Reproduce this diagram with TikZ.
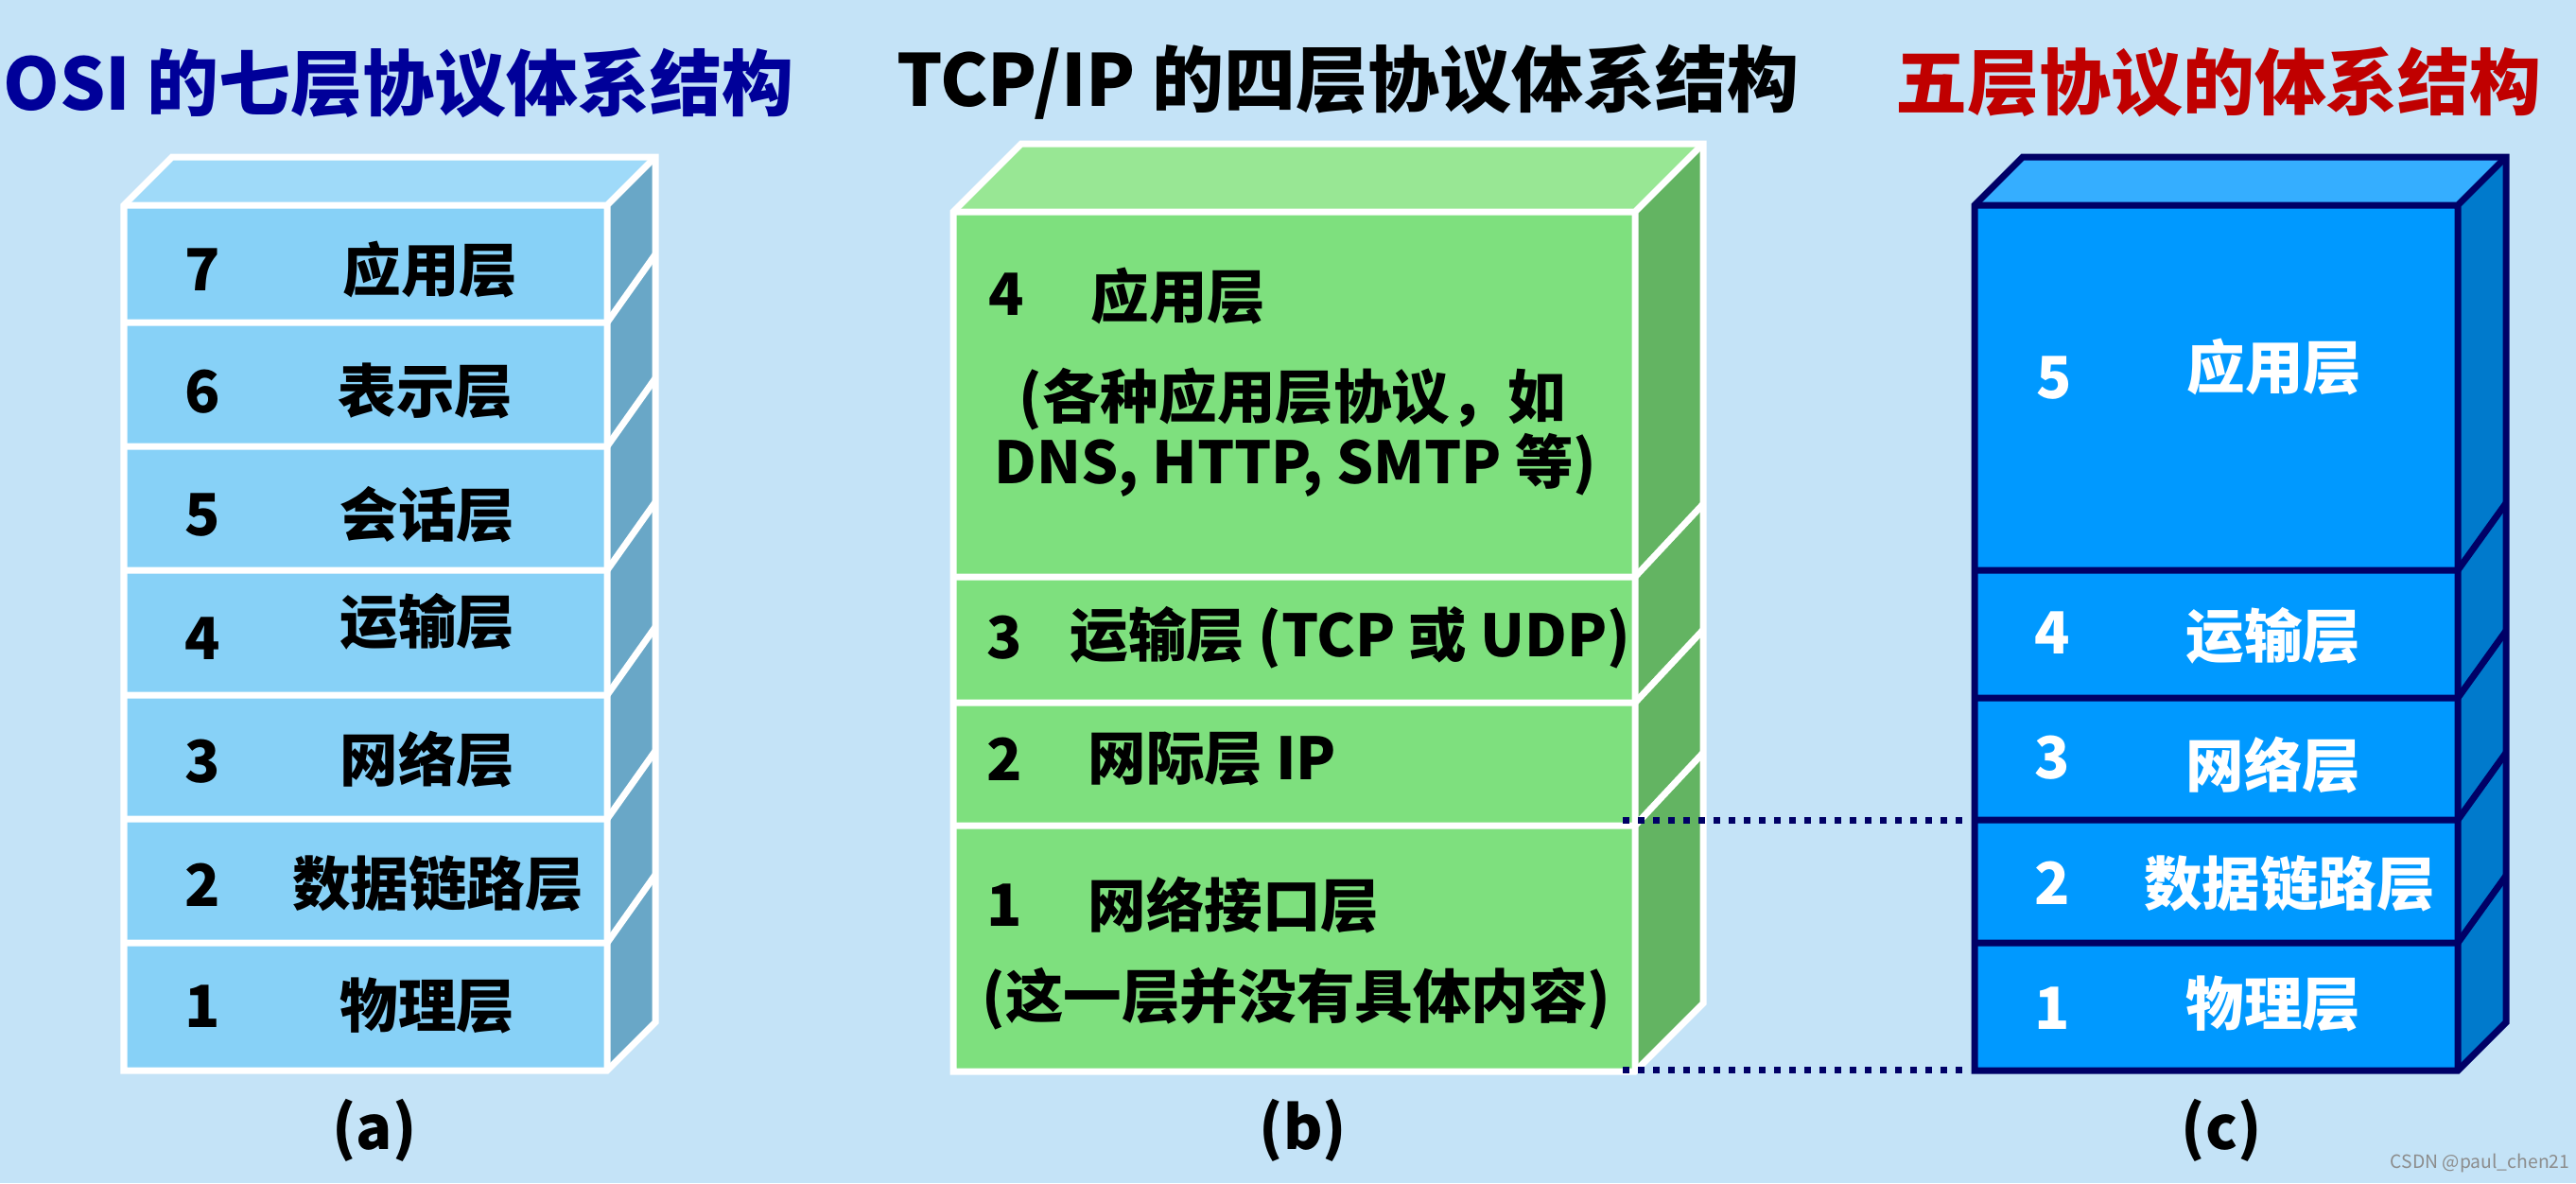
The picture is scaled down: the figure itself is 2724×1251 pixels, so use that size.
\documentclass[tikz,border=0pt]{standalone}
\usepackage{fontspec}
\newfontfamily\cjk{Noto Sans CJK SC}
\definecolor{bgc}{HTML}{C4E3F7}
\definecolor{aFront}{HTML}{87D1F7}
\definecolor{aTop}{HTML}{9FDAF9}
\definecolor{aSide}{HTML}{69A7C7}
\definecolor{bFront}{HTML}{7EE07E}
\definecolor{bTop}{HTML}{98E794}
\definecolor{bSide}{HTML}{63B462}
\definecolor{cFront}{HTML}{0099FF}
\definecolor{cTop}{HTML}{35AEFF}
\definecolor{cSide}{HTML}{007ACC}
\definecolor{navy}{HTML}{000066}
\definecolor{ttlA}{HTML}{000099}
\definecolor{ttlC}{HTML}{C00000}
\begin{document}
\begin{tikzpicture}[x=0.01cm,y=-0.01cm,
  wl/.style={draw=white,line width=0.07cm,line join=miter},
  nl/.style={draw=navy,line width=0.07cm,line join=miter},
  lab/.style={font=\cjk\bfseries\fontsize{17.5pt}{21pt}\selectfont,inner sep=0pt},
  ttl/.style={font=\cjk\bfseries\fontsize{21.6pt}{25pt}\selectfont,inner sep=0pt},
  wlab/.style={lab,text=white},
  dotl/.style={navy,line width=0.07cm,dash pattern=on 0.07cm off 0.09cm}]
\useasboundingbox (0,0) rectangle (2724,1251);
\fill[bgc] (0,0) rectangle (2724,1251);

% titles
\node[ttl,text=ttlA,anchor=west] (ta) at (3,88) {OSI 的七层协议体系结构};
\node[ttl,text=black] (tb) at (1425,87) {TCP/IP 的四层协议体系结构};
\node[ttl,text=ttlC] (tc) at (2346,87) {五层协议的体系结构};

% ---------- box (a) ----------
\fill[aTop] (131,217) -- (182,166) -- (693,166) -- (642,217) -- cycle;
\fill[aSide] (642,217) -- (693,166) -- (693,1081) -- (642,1132) -- cycle;
\fill[aFront] (131,217) rectangle (642,1132);
\draw[wl] (131,217) -- (182,166) -- (693,166) -- (693,1081) -- (642,1132) -- (131,1132) -- cycle;
\draw[wl] (131,217) -- (642,217) -- (693,166) (642,217) -- (642,1132);
\foreach \yy in {341,472,603,735,866,997} \draw[wl] (131,\yy) -- (642,\yy) -- ++(51,-72);

\node[lab] (a7n) at (214,285) {7};  \node[lab] (a7) at (455,285) {应用层};
\node[lab] (a6n) at (214,414) {6};  \node[lab] (a6) at (450,413) {表示层};
\node[lab] (a5n) at (214,545) {5};  \node[lab] (a5) at (452,544) {会话层};
\node[lab] (a4n) at (214,675) {4};  \node[lab] (a4) at (452,657) {运输层};
\node[lab] (a3n) at (214,805) {3};  \node[lab] (a3) at (452,803) {网络层};
\node[lab] (a2n) at (214,936) {2};  \node[lab] (a2) at (463,934) {数据链路层};
\node[lab] (a1n) at (214,1064) {1}; \node[lab] (a1) at (452,1063) {物理层};

% ---------- box (b) ----------
\fill[bTop] (1008,224) -- (1080,152) -- (1801,152) -- (1729,224) -- cycle;
\fill[bSide] (1729,224) -- (1801,152) -- (1801,1061) -- (1729,1133) -- cycle;
\fill[bFront] (1008,224) rectangle (1729,1133);
\draw[wl] (1008,224) -- (1080,152) -- (1801,152) -- (1801,1061) -- (1729,1133) -- (1008,1133) -- cycle;
\draw[wl] (1008,224) -- (1729,224) -- (1801,152) (1729,224) -- (1729,1133);
\foreach \yy in {610,743,873} \draw[wl] (1008,\yy) -- (1729,\yy) -- ++(72,-77);

\node[lab] (b4n) at (1064,311) {4};
\node[lab,anchor=west] (b4) at (1153,313) {应用层};
\node[lab] (b4a) at (1367,422) {(各种应用层协议，如};
\node[lab] (b4b) at (1370,492) {DNS, HTTP, SMTP 等)};
\node[lab] (b3n) at (1062,674) {3};
\node[lab,anchor=west] (b3) at (1131,674) {运输层 (TCP 或 UDP)};
\node[lab] (b2n) at (1062,803) {2};
\node[lab,anchor=west] (b2) at (1150,803) {网际层 IP};
\node[lab] (b1n) at (1062,957) {1};
\node[lab,anchor=west] (b1) at (1150,957) {网络接口层};
\node[lab] (b1a) at (1371,1056) {(这一层并没有具体内容)};

% ---------- box (c) ----------
\fill[cTop] (2088,217) -- (2139,166) -- (2650,166) -- (2599,217) -- cycle;
\fill[cSide] (2599,217) -- (2650,166) -- (2650,1081) -- (2599,1132) -- cycle;
\fill[cFront] (2088,217) rectangle (2599,1132);
\draw[nl] (2088,217) -- (2139,166) -- (2650,166) -- (2650,1081) -- (2599,1132) -- (2088,1132) -- cycle;
\draw[nl] (2088,217) -- (2599,217) -- (2650,166) (2599,217) -- (2599,1132);
\foreach \yy in {603,738,867,997} \draw[nl] (2088,\yy) -- (2599,\yy) -- ++(51,-71);

\node[wlab] (c5n) at (2172,400) {5};  \node[wlab] (c5) at (2405,388) {应用层};
\node[wlab] (c4n) at (2170,669) {4};  \node[wlab] (c4) at (2404,672) {运输层};
\node[wlab] (c3n) at (2170,801) {3};  \node[wlab] (c3) at (2404,809) {网络层};
\node[wlab] (c2n) at (2170,934) {2};  \node[wlab] (c2) at (2421,934) {数据链路层};
\node[wlab] (c1n) at (2170,1066) {1}; \node[wlab] (c1) at (2404,1061) {物理层};

% dotted correspondence lines
\coordinate (dbu) at (1716,867);
\coordinate (dcu) at (2084,867);
\coordinate (dbl) at (1716,1131);
\coordinate (dcl) at (2084,1131);
\draw[dotl] (dbu) -- (dcu);
\draw[dotl] (dbl) -- (dcl);

% captions
\node[lab,font=\cjk\bfseries\fontsize{18pt}{21pt}\selectfont] (capa) at (396,1195) {(a)};
\node[lab,font=\cjk\bfseries\fontsize{18pt}{21pt}\selectfont] (capb) at (1378,1195) {(b)};
\node[lab,font=\cjk\bfseries\fontsize{18pt}{21pt}\selectfont] (capc) at (2349,1195) {(c)};

\node[font=\cjk\fontsize{5.5pt}{6pt}\selectfont,text=black!45,anchor=east,inner sep=0pt] (wm) at (2718,1230) {CSDN @paul\_chen21};
\end{tikzpicture}
\end{document}
